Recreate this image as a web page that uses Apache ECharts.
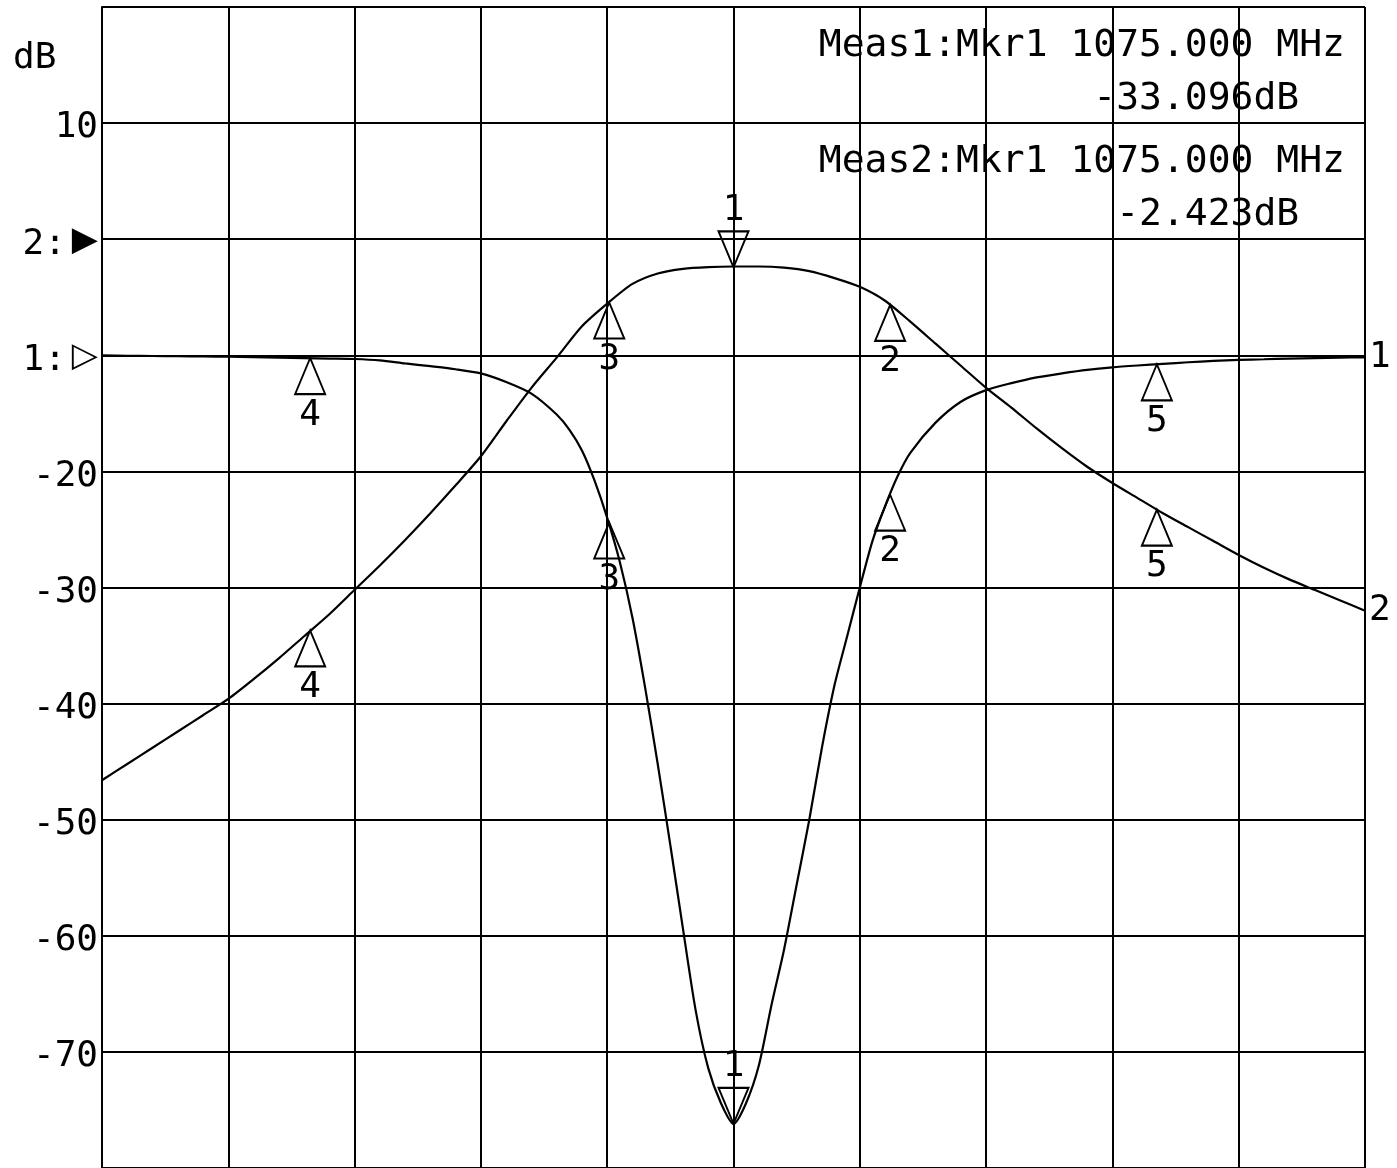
<!DOCTYPE html>
<html>
<head>
<meta charset="utf-8">
<script src="https://cdn.jsdelivr.net/npm/echarts@6/dist/echarts.min.js"></script>
<style>
html,body{margin:0;padding:0;background:#fff;}
#chart{width:1397px;height:1168px;}
</style>
</head>
<body>
<div id="chart"></div>
<script>
// ---- Data (frequency in MHz) ----
// Trace 2 (dB, 10 dB/div, reference 0 dB at "2:")
const trace2Freq = [950, 955, 960, 965, 970, 975, 980, 985, 990, 995, 1000, 1005, 1010, 1015, 1020, 1025, 1030, 1035, 1040, 1045, 1050, 1055, 1060, 1065, 1070, 1075, 1080, 1085, 1090, 1095, 1100, 1105, 1110, 1115, 1120, 1125, 1130, 1135, 1140, 1145, 1150, 1155, 1160, 1165, 1170, 1175, 1180, 1185, 1190, 1195, 1200];
const trace2Db   = [-46.6, -45.2, -43.8, -42.4, -41.0, -39.6, -37.9, -36.1, -34.2, -32.3, -30.2, -28.1, -25.9, -23.6, -21.2, -18.7, -15.7, -12.8, -10.2, -7.5, -5.55, -3.85, -2.95, -2.55, -2.4, -2.35, -2.35, -2.45, -2.75, -3.35, -4.1, -5.3, -7.1, -9.0, -10.9, -12.8, -14.5, -16.3, -18.0, -19.6, -21.0, -22.3, -23.6, -24.8, -26.0, -27.2, -28.3, -29.3, -30.2, -31.1, -32.0];
// Trace 1 (dB, 5 dB/div, reference 0 dB at "1:")
const trace1Freq = [950, 955, 960, 965, 970, 975, 980, 985, 990, 995, 1000, 1005, 1010, 1015, 1020, 1025, 1030, 1035, 1040, 1042.5, 1045, 1047.5, 1050, 1052.5, 1055, 1057.5, 1060, 1062.5, 1065, 1067.5, 1070, 1072.5, 1075, 1077.5, 1080, 1082.5, 1085, 1087.5, 1090, 1092.5, 1095, 1097.5, 1100, 1102.5, 1105, 1107.5, 1110, 1115, 1120, 1125, 1130, 1135, 1140, 1145, 1150, 1155, 1160, 1165, 1170, 1175, 1180, 1185, 1190, 1195, 1200];
const trace1Db   = [0.0, -0.02, -0.03, -0.04, -0.05, -0.06, -0.08, -0.1, -0.12, -0.14, -0.16, -0.22, -0.35, -0.47, -0.6, -0.78, -1.15, -1.65, -2.55, -3.2, -4.1, -5.4, -7.0, -8.9, -11.3, -14.3, -17.6, -21.1, -24.7, -28.2, -30.7, -32.2, -33.1, -32.2, -30.6, -28.0, -25.6, -22.8, -20.0, -16.9, -14.2, -12.1, -10.0, -8.0, -6.5, -5.2, -4.2, -2.9, -2.0, -1.5, -1.2, -0.95, -0.78, -0.63, -0.52, -0.44, -0.37, -0.3, -0.24, -0.2, -0.17, -0.14, -0.12, -0.1, -0.09];

// Markers
const markerNames = ['1', '2', '3', '4', '5'];
const markerFreq  = [1075, 1106, 1050.4, 991.2, 1158.8];
const markerTrace2 = [-2.42, -5.66, -5.45, -33.7, -23.3];
const markerTrace1 = [-33.096, -6.0, -7.2, -0.12, -0.39];

// Axis tick labels (left axis, trace 2 scale)
const yTickValues = [10, 0, -10, -20, -30, -40, -50, -60, -70];
const yTickLabels = ['10', '2:', '1:', '-20', '-30', '-40', '-50', '-60', '-70'];
const yRefTriangles = { '0': '▶', '-10': '▷' };

// Readouts
const readoutLines1 = ['Meas1:Mkr1 1075.000 MHz', '-33.096dB  '];
const readoutLines2 = ['Meas2:Mkr1 1075.000 MHz', '-2.423dB  '];

const FONT = 'DejaVu Sans Mono';

function pairs(xs, ys) { return xs.map((x, i) => [x, ys[i]]); }

function markerData(vals) {
  return markerNames.map((n, i) => {
    const down = n === '1';
    return {
      name: n,
      coord: [markerFreq[i], vals[i]],
      symbol: down ? 'path://M-1,0L1,0L0,2Z' : 'path://M0,0L1,2L-1,2Z',
      symbolSize: [30, 36],
      symbolOffset: [0, down ? '-50%' : '50%'],
      label: { position: down ? 'top' : 'bottom' }
    };
  });
}

const markPointBase = {
  silent: true,
  itemStyle: { color: 'rgba(0,0,0,0)', borderColor: '#000', borderWidth: 2 },
  label: {
    show: true, formatter: p => p.name, color: '#000',
    fontFamily: FONT, fontSize: 36, distance: 2
  }
};

const readoutStyle = { fontFamily: FONT, fontSize: 38, fontWeight: 'normal', color: '#000', lineHeight: 53 };

const chart = echarts.init(document.getElementById('chart'), null, { renderer: 'canvas' });

chart.setOption({
  animation: false,
  backgroundColor: '#fff',
  title: [
    { text: 'dB', left: 8, top: 36, textStyle: { fontFamily: FONT, fontSize: 36, fontWeight: 'normal', color: '#000' } },
    { text: readoutLines1.join('\n'), left: 1345, top: 20, textAlign: 'right', padding: 0, textStyle: readoutStyle },
    { text: readoutLines2.join('\n'), left: 1345, top: 136, textAlign: 'right', padding: 0, textStyle: readoutStyle }
  ],
  grid: { left: 102, top: 7, width: 1263, height: 1163, containLabel: false },
  xAxis: {
    type: 'value', min: 950, max: 1200, interval: 25,
    axisLabel: { show: false }, axisTick: { show: false },
    axisLine: { show: true, lineStyle: { color: '#000', width: 2 } },
    splitLine: { show: true, lineStyle: { color: '#000', width: 2 } }
  },
  yAxis: [
    {
      type: 'value', min: -80, max: 20, interval: 10,
      axisTick: { show: false },
      axisLine: { show: true, lineStyle: { color: '#000', width: 2 } },
      splitLine: { show: true, lineStyle: { color: '#000', width: 2 } },
      axisLabel: {
        margin: 4, color: '#000', fontFamily: FONT, fontSize: 36,
        formatter: function (v) {
          const idx = yTickValues.indexOf(v);
          if (idx < 0) return '';
          const tri = yRefTriangles[String(v)];
          if (tri) return '{t|' + yTickLabels[idx] + '}{f|' + tri + '}';
          return '{t|' + yTickLabels[idx] + '}';
        },
        rich: {
          t: { fontFamily: FONT, fontSize: 36, color: '#000', padding: [10, 0, 0, 0] },
          f: { fontFamily: 'DejaVu Sans', fontSize: 34, color: '#000', padding: [4, 0, 0, 6] }
        }
      }
    },
    {
      type: 'value', min: -35, max: 15, interval: 5, show: false,
      splitLine: { show: false }
    }
  ],
  series: [
    {
      name: 'Trace 1', type: 'line', yAxisIndex: 1,
      data: pairs(trace1Freq, trace1Db),
      showSymbol: false, smooth: 0.25,
      lineStyle: { color: '#000', width: 2.2 },
      endLabel: { show: true, formatter: '1', color: '#000', fontFamily: FONT, fontSize: 36, distance: 4 },
      markPoint: Object.assign({}, markPointBase, { data: markerData(markerTrace1) }),
      z: 3
    },
    {
      name: 'Trace 2', type: 'line', yAxisIndex: 0,
      data: pairs(trace2Freq, trace2Db),
      showSymbol: false, smooth: 0.25,
      lineStyle: { color: '#000', width: 2.2 },
      endLabel: { show: true, formatter: '2', color: '#000', fontFamily: FONT, fontSize: 36, distance: 4 },
      markPoint: Object.assign({}, markPointBase, { data: markerData(markerTrace2) }),
      z: 3
    }
  ]
});
</script>
</body>
</html>
